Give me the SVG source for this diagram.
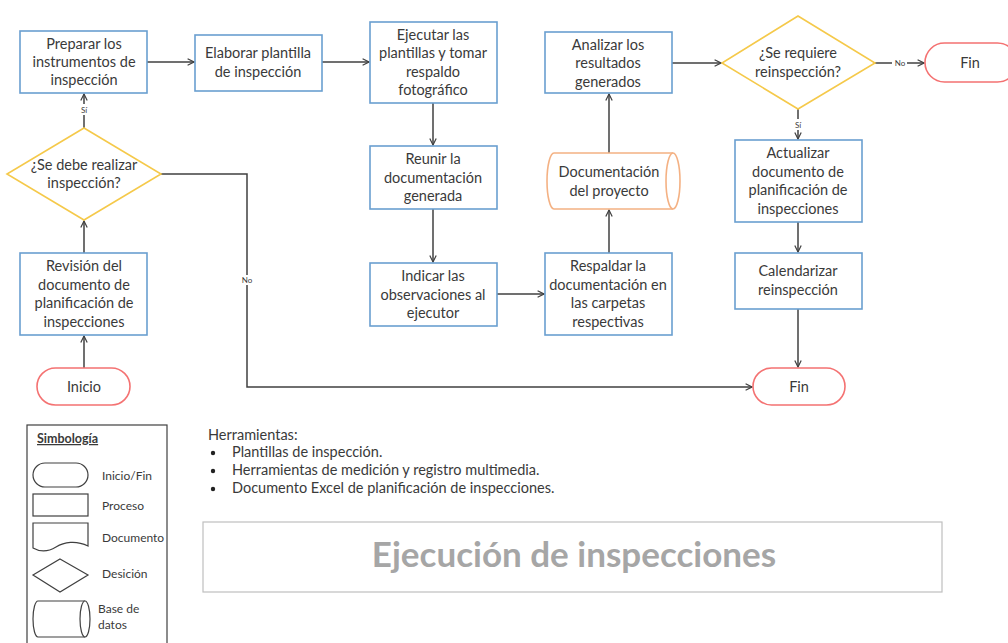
<svg xmlns="http://www.w3.org/2000/svg" width="1008" height="643" viewBox="0 0 1008 643">
<defs>
<marker id="arr" viewBox="0 0 10 10" refX="9" refY="5" markerWidth="8" markerHeight="8" markerUnits="userSpaceOnUse" orient="auto">
<path d="M1,1 L9,5 L1,9" fill="none" stroke="#404040" stroke-width="1.5"/>
</marker>
<style>
text{font-family:Lato,"Liberation Sans",sans-serif;fill:#3a3a3a}
.t{font-size:14.5px;text-anchor:middle}
.proc{fill:#fff;stroke:#6a9fd0;stroke-width:1.6}
.dec{fill:#fff;stroke:#f5c94a;stroke-width:1.6}
.term{fill:#fff;stroke:#f47272;stroke-width:1.6}
.db{fill:#fff;stroke:#f4b183;stroke-width:1.6}
.c{fill:none;stroke:#404040;stroke-width:1.5}
.lbl{font-size:8px;text-anchor:middle}
.lg{fill:#fff;stroke:#404040;stroke-width:1.2}
.ls{font-size:12px}
.h{font-size:14.5px}
</style>
</defs>
<rect width="1008" height="643" fill="#fff"/>

<g id="connectors">
<path class="c" d="M147,62 H194" marker-end="url(#arr)"/>
<path class="c" d="M322,62 H369" marker-end="url(#arr)"/>
<path class="c" d="M433,103 V145" marker-end="url(#arr)"/>
<path class="c" d="M433,209 V262" marker-end="url(#arr)"/>
<path class="c" d="M497,294 H544" marker-end="url(#arr)"/>
<path class="c" d="M609,253 V210" marker-end="url(#arr)"/>
<path class="c" d="M609,153 V94" marker-end="url(#arr)"/>
<path class="c" d="M672,63 H721" marker-end="url(#arr)"/>
<path class="c" d="M875,63 H924" marker-end="url(#arr)"/>
<path class="c" d="M798,109 V139" marker-end="url(#arr)"/>
<path class="c" d="M798,222 V252" marker-end="url(#arr)"/>
<path class="c" d="M798,309 V367" marker-end="url(#arr)"/>
<path class="c" d="M84,368 V336" marker-end="url(#arr)"/>
<path class="c" d="M84,253 V221" marker-end="url(#arr)"/>
<path class="c" d="M84,128 V94" marker-end="url(#arr)"/>
<path class="c" d="M161,174 H247 V387 H752" marker-end="url(#arr)"/>
<rect x="79" y="104" width="10" height="11" fill="#fff"/>
<text class="lbl" x="84" y="113">Sí</text>
<rect x="793" y="119" width="10" height="11" fill="#fff"/>
<text class="lbl" x="798" y="128">Sí</text>
<rect x="892" y="58" width="15" height="10" fill="#fff"/>
<text class="lbl" x="900" y="66">No</text>
<rect x="240" y="275" width="15" height="10" fill="#fff"/>
<text class="lbl" x="247" y="283">No</text>
</g>

<g id="preparar">
<rect class="proc" x="20" y="31" width="127" height="62"/>
<text class="t" x="84" y="49">Preparar los</text>
<text class="t" x="84" y="67">instrumentos de</text>
<text class="t" x="84" y="85">inspección</text>
</g>
<g id="elaborar">
<rect class="proc" x="195" y="35" width="127" height="56"/>
<text class="t" x="258" y="58">Elaborar plantilla</text>
<text class="t" x="258" y="77">de inspección</text>
</g>
<g id="ejecutar">
<rect class="proc" x="370" y="22" width="127" height="81"/>
<text class="t" x="433" y="40">Ejecutar las</text>
<text class="t" x="433" y="58">plantillas y tomar</text>
<text class="t" x="433" y="77">respaldo</text>
<text class="t" x="433" y="95">fotográfico</text>
</g>
<g id="reunir">
<rect class="proc" x="370" y="146" width="127" height="63"/>
<text class="t" x="433" y="164">Reunir la</text>
<text class="t" x="433" y="183">documentación</text>
<text class="t" x="433" y="201">generada</text>
</g>
<g id="indicar">
<rect class="proc" x="370" y="263" width="127" height="63"/>
<text class="t" x="433" y="281">Indicar las</text>
<text class="t" x="433" y="300">observaciones al</text>
<text class="t" x="433" y="318">ejecutor</text>
</g>
<g id="respaldar">
<rect class="proc" x="545" y="253" width="127" height="82"/>
<text class="t" x="608" y="271">Respaldar la</text>
<text class="t" x="608" y="290">documentación en</text>
<text class="t" x="608" y="308">las carpetas</text>
<text class="t" x="608" y="327">respectivas</text>
</g>
<g id="documentacion">
<path class="db" d="M554,153 H673 A7,28 0 0 1 673,209 H554 A7,28 0 0 1 554,153 Z"/>
<path class="db" d="M673,209 A7,28 0 0 1 673,153"/>
<text class="t" x="609" y="177">Documentación</text>
<text class="t" x="609" y="196">del proyecto</text>
</g>
<g id="analizar">
<rect class="proc" x="545" y="32" width="127" height="61"/>
<text class="t" x="608" y="50">Analizar los</text>
<text class="t" x="608" y="68">resultados</text>
<text class="t" x="608" y="87">generados</text>
</g>
<g id="reinspeccion">
<path class="dec" d="M798,16 L875,63 L798,109 L722,63 Z"/>
<text class="t" x="798" y="58">¿Se requiere</text>
<text class="t" x="798" y="77">reinspección?</text>
</g>
<g id="fin-top">
<rect class="term" x="925" y="43" width="92" height="39" rx="19.5"/>
<text class="t" x="970" y="68">Fin</text>
</g>
<g id="actualizar">
<rect class="proc" x="735" y="140" width="127" height="82"/>
<text class="t" x="798" y="158">Actualizar</text>
<text class="t" x="798" y="177">documento de</text>
<text class="t" x="798" y="195">planificación de</text>
<text class="t" x="798" y="214">inspecciones</text>
</g>
<g id="calendarizar">
<rect class="proc" x="735" y="253" width="127" height="56"/>
<text class="t" x="798" y="276">Calendarizar</text>
<text class="t" x="798" y="295">reinspección</text>
</g>
<g id="fin-bottom">
<rect class="term" x="753" y="368" width="92" height="37" rx="18.5"/>
<text class="t" x="799" y="392">Fin</text>
</g>
<g id="decision-inspeccion">
<path class="dec" d="M84,128 L161,174 L84,220 L7,174 Z"/>
<text class="t" x="84" y="170">¿Se debe realizar</text>
<text class="t" x="84" y="188">inspección?</text>
</g>
<g id="revision">
<rect class="proc" x="20" y="253" width="127" height="82"/>
<text class="t" x="84" y="271">Revisión del</text>
<text class="t" x="84" y="290">documento de</text>
<text class="t" x="84" y="308">planificación de</text>
<text class="t" x="84" y="327">inspecciones</text>
</g>
<g id="inicio">
<rect class="term" x="37" y="368" width="93" height="37" rx="18.5"/>
<text class="t" x="84" y="392">Inicio</text>
</g>

<g id="simbologia">
<rect x="27" y="425" width="140" height="230" fill="#fff" stroke="#404040" stroke-width="1.2"/>
<text x="37" y="443" font-size="12.5" font-weight="bold" text-decoration="underline">Simbología</text>
<rect class="lg" x="33" y="463" width="55" height="24" rx="12"/>
<text class="ls" x="102" y="480">Inicio/Fin</text>
<rect class="lg" x="33" y="494" width="55" height="22"/>
<text class="ls" x="102" y="510">Proceso</text>
<path class="lg" d="M33,523 H88 V546 C76,540 64,542 56,547 C48,552 40,552 33,548 Z"/>
<text class="ls" x="102" y="542">Documento</text>
<path class="lg" d="M60,559 L88,575 L60,592 L33,575 Z"/>
<text class="ls" x="102" y="578">Desición</text>
<path class="lg" d="M38,601 H85 A5,18 0 0 1 85,637 H38 A5,18 0 0 1 38,601 Z"/>
<path class="lg" d="M85,637 A5,18 0 0 1 85,601"/>
<text class="ls" x="98" y="613">Base de</text>
<text class="ls" x="98" y="629">datos</text>
</g>

<g id="herramientas">
<text class="h" x="208" y="440">Herramientas:</text>
<circle cx="213" cy="453" r="2.2" fill="#222"/>
<circle cx="213" cy="471" r="2.2" fill="#222"/>
<circle cx="213" cy="489" r="2.2" fill="#222"/>
<text class="h" x="232" y="457">Plantillas de inspección.</text>
<text class="h" x="232" y="475">Herramientas de medición y registro multimedia.</text>
<text class="h" x="232" y="493">Documento Excel de planificación de inspecciones.</text>
</g>

<g id="titulo">
<rect x="203" y="522" width="739" height="70" fill="#fff" stroke="#bfbfbf" stroke-width="1.2"/>
<text x="574" y="567" font-size="35" font-weight="bold" text-anchor="middle" style="fill:#a6a6a6">Ejecución de inspecciones</text>
</g>
</svg>
